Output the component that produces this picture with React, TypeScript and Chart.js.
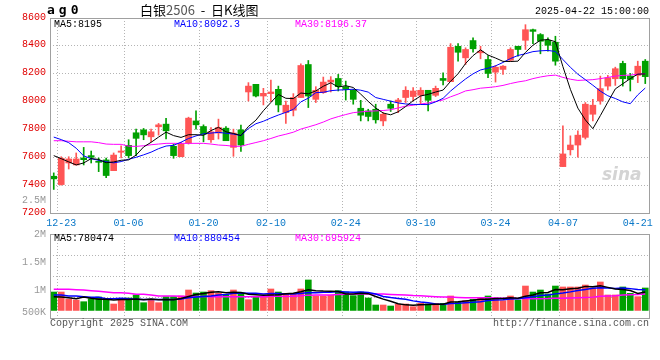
import React, { useEffect, useRef } from 'react';
import { Chart, registerables } from 'chart.js';

Chart.register(...registerables);

// ---------- data ----------
const dates = [
  '12-20', '12-23', '12-24', '12-25', '12-26', '12-27', '12-30', '12-31',
  '01-02', '01-03', '01-06', '01-07', '01-08', '01-09', '01-10', '01-13', '01-14', '01-15', '01-16', '01-17',
  '01-20', '01-21', '01-22', '01-23', '01-24', '01-27',
  '02-05', '02-06', '02-07', '02-10', '02-11', '02-12', '02-13', '02-14', '02-17', '02-18', '02-19', '02-20', '02-21',
  '02-24', '02-25', '02-26', '02-27', '02-28',
  '03-03', '03-04', '03-05', '03-06', '03-07', '03-10', '03-11', '03-12', '03-13', '03-14', '03-17', '03-18', '03-19',
  '03-20', '03-21', '03-24', '03-25', '03-26', '03-27', '03-28', '03-31',
  '04-01', '04-02', '04-03', '04-07', '04-08', '04-09', '04-10', '04-11', '04-14', '04-15', '04-16', '04-17', '04-18',
  '04-21', '04-22',
];

const opens = [
  7464, 7404, 7559, 7545, 7595, 7612, 7571, 7581, 7504, 7636,
  7686, 7776, 7797, 7747, 7819, 7838, 7679, 7604, 7702, 7861,
  7821, 7726, 7774, 7809, 7671, 7797, 8069, 8124, 8040, 8057,
  8088, 7921, 7938, 8029, 8266, 8016, 8064, 8140, 8166, 8107,
  8081, 7952, 7933, 7945, 7861, 7981, 7997, 8029, 8036, 8045,
  8081, 8045, 8166, 8143, 8397, 8314, 8438, 8350, 8302, 8211,
  8231, 8297, 8397, 8440, 8516, 8481, 8440, 8426, 7533, 7654,
  7688, 7743, 7909, 8004, 8111, 8164, 8274, 8183, 8188, 8290,
];
const highs = [
  7488, 7604, 7604, 7631, 7671, 7645, 7595, 7595, 7631, 7683,
  7726, 7802, 7807, 7802, 7843, 7879, 7695, 7707, 7888, 7933,
  7833, 7814, 7874, 7821, 7802, 7831, 8136, 8124, 8095, 8154,
  8111, 8004, 8057, 8271, 8295, 8107, 8176, 8179, 8195, 8147,
  8088, 8009, 7945, 7981, 7921, 8004, 8024, 8107, 8100, 8100,
  8081, 8111, 8207, 8416, 8416, 8386, 8457, 8397, 8331, 8259,
  8259, 8386, 8397, 8552, 8521, 8488, 8457, 8469, 7826, 7754,
  7790, 7993, 8016, 8183, 8188, 8247, 8290, 8202, 8290, 8302,
];
const lows = [
  7369, 7400, 7516, 7545, 7545, 7559, 7497, 7454, 7504, 7595,
  7595, 7612, 7726, 7711, 7759, 7731, 7593, 7604, 7695, 7802,
  7711, 7707, 7731, 7719, 7607, 7643, 8004, 8033, 7976, 8000,
  7926, 7843, 7897, 8029, 7957, 7993, 8059, 8069, 8076, 8011,
  7981, 7861, 7861, 7845, 7826, 7929, 7921, 7993, 8004, 7981,
  7933, 8036, 8119, 8143, 8290, 8266, 8354, 8307, 8171, 8140,
  8195, 8290, 8326, 8374, 8416, 8343, 8361, 8261, 7533, 7616,
  7600, 7731, 7861, 7981, 8083, 8116, 8111, 8076, 8136, 8129,
];
const closes = [
  7445, 7593, 7588, 7588, 7583, 7600, 7564, 7469, 7616, 7645,
  7612, 7736, 7761, 7783, 7833, 7790, 7612, 7695, 7881, 7833,
  7766, 7783, 7814, 7719, 7774, 7688, 8111, 8040, 8059, 8069,
  7976, 7974, 8029, 8259, 8040, 8081, 8140, 8154, 8107, 8088,
  8016, 7902, 7893, 7869, 7909, 7952, 8011, 8081, 8076, 8081,
  8009, 8095, 8152, 8390, 8354, 8374, 8379, 8361, 8202, 8247,
  8254, 8374, 8374, 8516, 8504, 8433, 8404, 8290, 7624, 7688,
  7759, 7981, 7974, 8093, 8171, 8236, 8164, 8159, 8254, 8179,
];
const volumes = [
  964000, 964000, 839000, 821000, 791000, 845000, 875000, 845000, 750000, 833000,
  857000, 911000, 773000, 821000, 773000, 881000, 881000, 893000, 1000000, 946000,
  964000, 988000, 940000, 917000, 1000000, 940000, 827000, 887000, 875000, 1018000,
  964000, 929000, 923000, 1018000, 1179000, 893000, 893000, 905000, 988000, 964000,
  899000, 964000, 857000, 732000, 732000, 714000, 744000, 750000, 702000, 762000,
  750000, 762000, 762000, 893000, 786000, 809000, 833000, 857000, 893000, 857000,
  809000, 893000, 821000, 1071000, 964000, 1000000, 929000, 1071000, 1054000, 1054000,
  1054000, 1089000, 1036000, 1143000, 911000, 911000, 1054000, 940000, 881000, 1036000,
];

// moving-average values before a full window exists
const ma5Lead = [7612, 7590, 7567, 7545];
const ma10Lead = [7745, 7727, 7705, 7665, 7610, 7590, 7578, 7568, 7560];
const ma30Lead = [
  7719, 7719, 7715, 7711, 7711, 7711, 7705, 7695, 7693, 7693,
  7680, 7678, 7683, 7690, 7695, 7700, 7700, 7700, 7700, 7700,
  7700, 7695, 7688, 7685, 7679, 7679, 7693, 7706, 7719,
];
const volMa5Lead = [881000, 875000, 860000, 845000];
const volMa10Lead = [911000, 911000, 893000, 893000, 880000, 869000, 869000, 845000, 845000];
const volMa30Lead = [
  1012000, 1012000, 1012000, 1006000, 1000000, 988000, 976000, 964000, 952000, 952000,
  940000, 923000, 923000, 910000, 893000, 893000, 893000, 890000, 886000, 884000,
  882000, 881000, 881000, 881000, 881000, 881000, 881000, 881000, 881000,
];

const xLabelDates = ['12-23', '01-06', '01-20', '02-10', '02-24', '03-10', '03-24', '04-07', '04-21'];
const xGridDates = ['12-23', '01-06', '01-20', '02-10', '02-24', '03-10', '03-24', '04-07'];

const priceMin = 7200;
const priceMax = 8600;
const priceStep = 200;

const volMin = 500000;
const volMax = 2000000;
const volBase = 635000;
const volTickValues = [500000, 1000000, 1500000, 2000000];
const volTickLabels = ['500K', '1M', '1.5M', '2M'];

const legendMain = ['MA5:8195', 'MA10:8092.3', 'MA30:8196.37'];
const legendVol = ['MA5:780474', 'MA10:880454', 'MA30:695924'];

// ---------- styles ----------
const MONO = '"Liberation Mono", "DejaVu Sans Mono", monospace';
const RED = '#ff5555';
const GREEN = '#00a000';
const GRID = '#b4b4b4';
const FRAME = '#a0a0a0';
const CLEAR = 'rgba(0,0,0,0)';
const MA_COLORS = ['#000000', '#0000ff', '#ff00ff'];

function movingAverage(values: number[], n: number, lead: number[]): number[] {
  return values.map((_, i) => {
    if (i < n - 1) return lead[i];
    let s = 0;
    for (let k = i - n + 1; k <= i; k++) s += values[k];
    return s / n;
  });
}

const labelSet = new Set(xLabelDates);
const gridSet = new Set(xGridDates);
const candleColors = closes.map((c, i) => (c >= opens[i] ? RED : GREEN));

const framePlugin = {
  id: 'frame',
  afterDraw(chart: any) {
    const { ctx, chartArea: a } = chart;
    ctx.save();
    ctx.strokeStyle = FRAME;
    ctx.lineWidth = 1;
    ctx.setLineDash([]);
    ctx.strokeRect(Math.round(a.left) + 0.5, Math.round(a.top) + 0.5, Math.round(a.right - a.left), Math.round(a.bottom - a.top));
    ctx.restore();
  },
};

function noPadding(s: any) {
  s.paddingTop = 0;
  s.paddingBottom = 0;
  s.paddingLeft = 0;
  s.paddingRight = 0;
}

function xScale(showLabels: boolean, height: number) {
  return {
    type: 'category',
    offset: true,
    grid: {
      offset: true,
      drawTicks: false,
      lineWidth: 1,
      color: (c: any) => (gridSet.has(dates[c.index]) ? GRID : CLEAR),
    },
    border: { display: false, dash: [1, 2] },
    ticks: {
      display: showLabels,
      autoSkip: false,
      maxRotation: 0,
      minRotation: 0,
      padding: 4,
      color: '#0a78c8',
      font: { family: MONO, size: 10 },
      callback: (_v: any, i: number) => (labelSet.has(dates[i]) ? dates[i] : ''),
    },
    afterFit: (s: any) => {
      s.height = height;
      noPadding(s);
    },
  };
}

function mainConfig(): any {
  const ma5 = movingAverage(closes, 5, ma5Lead);
  const ma10 = movingAverage(closes, 10, ma10Lead);
  const ma30 = movingAverage(closes, 30, ma30Lead);
  const line = (data: number[], color: string, order: number) => ({
    type: 'line',
    data,
    borderColor: color,
    borderWidth: 1,
    pointRadius: 0,
    fill: false,
    tension: 0,
    order,
  });
  return {
    type: 'bar',
    data: {
      labels: dates,
      datasets: [
        line(ma5, MA_COLORS[0], 0),
        line(ma10, MA_COLORS[1], 1),
        line(ma30, MA_COLORS[2], 2),
        {
          type: 'bar',
          data: opens.map((o, i) => [o, closes[i]]),
          backgroundColor: candleColors,
          barThickness: 6,
          minBarLength: 1,
          grouped: false,
          order: 3,
        },
        {
          type: 'bar',
          data: lows.map((l, i) => [l, highs[i]]),
          backgroundColor: candleColors,
          barThickness: 1,
          grouped: false,
          order: 4,
        },
      ],
    },
    options: {
      responsive: false,
      animation: false,
      devicePixelRatio: 1,
      events: [],
      layout: { padding: { top: 18, right: 11, left: 0, bottom: 0 } },
      plugins: { legend: { display: false }, tooltip: { enabled: false } },
      scales: {
        x: xScale(true, 27),
        y: {
          min: priceMin,
          max: priceMax,
          grid: { drawTicks: false, color: GRID, lineWidth: 1 },
          border: { display: false, dash: [1, 2] },
          ticks: {
            stepSize: priceStep,
            autoSkip: false,
            padding: 4,
            labelOffset: -1,
            color: '#e00000',
            font: { family: MONO, size: 10 },
            callback: (v: number) => String(v),
          },
          afterFit: (s: any) => {
            s.width = 50;
            noPadding(s);
          },
        },
      },
    },
    plugins: [framePlugin],
  };
}

function volConfig(): any {
  const ma5 = movingAverage(volumes, 5, volMa5Lead);
  const ma10 = movingAverage(volumes, 10, volMa10Lead);
  const ma30 = movingAverage(volumes, 30, volMa30Lead);
  const gridValues = [1, 2, 3].map((k) => volMin + ((volMax - volMin) * k) / 4);
  const allTicks = [...volTickValues, ...gridValues].sort((a, b) => a - b);
  const line = (data: number[], color: string, order: number) => ({
    type: 'line',
    data,
    borderColor: color,
    borderWidth: 1.5,
    pointRadius: 0,
    fill: false,
    tension: 0,
    order,
  });
  return {
    type: 'bar',
    data: {
      labels: dates,
      datasets: [
        line(ma5, MA_COLORS[0], 0),
        line(ma10, MA_COLORS[1], 1),
        line(ma30, MA_COLORS[2], 2),
        {
          type: 'bar',
          data: volumes,
          base: volBase,
          backgroundColor: candleColors,
          barThickness: 6,
          grouped: false,
          order: 3,
        },
      ],
    },
    options: {
      responsive: false,
      animation: false,
      devicePixelRatio: 1,
      events: [],
      layout: { padding: { top: 10, right: 11, left: 0, bottom: 0 } },
      plugins: { legend: { display: false }, tooltip: { enabled: false } },
      scales: {
        x: xScale(false, 12),
        y: {
          min: volMin,
          max: volMax,
          afterBuildTicks: (s: any) => {
            s.ticks = allTicks.map((v) => ({ value: v }));
          },
          grid: {
            drawTicks: false,
            lineWidth: 1,
            color: (c: any) => (c.tick && gridValues.includes(c.tick.value) ? GRID : CLEAR),
          },
          border: { display: false, dash: [1, 2] },
          ticks: {
            autoSkip: false,
            padding: 4,
            color: '#999999',
            font: { family: MONO, size: 10 },
            callback: (v: number) => {
              const k = volTickValues.indexOf(v);
              if (k < 0) return '';
              return k === 0 ? [volTickLabels[k], ''] : volTickLabels[k];
            },
          },
          afterFit: (s: any) => {
            s.width = 50;
            noPadding(s);
          },
        },
      },
    },
    plugins: [framePlugin],
  };
}

const txt = (extra: React.CSSProperties): React.CSSProperties => ({
  position: 'absolute',
  fontFamily: MONO,
  fontSize: 10,
  lineHeight: '12px',
  whiteSpace: 'pre',
  ...extra,
});

export default function App() {
  const mainRef = useRef<HTMLCanvasElement>(null);
  const volRef = useRef<HTMLCanvasElement>(null);

  useEffect(() => {
    const main = new Chart(mainRef.current as HTMLCanvasElement, mainConfig());
    const vol = new Chart(volRef.current as HTMLCanvasElement, volConfig());
    return () => {
      main.destroy();
      vol.destroy();
    };
  }, []);

  const legendX = [54, 174, 295];

  return (
    <div style={{ position: 'absolute', left: 0, top: 0, width: 660, height: 360, background: '#ffffff', overflow: 'hidden' }}>
      <canvas ref={mainRef} width={660} height={240} style={{ position: 'absolute', left: 0, top: 0, display: 'block' }} />
      <canvas ref={volRef} width={660} height={106} style={{ position: 'absolute', left: 0, top: 224, display: 'block' }} />

      <div style={txt({ left: 47, top: 2, fontFamily: '"DejaVu Sans Mono", monospace', fontWeight: 'bold', fontSize: 13, lineHeight: '16px', letterSpacing: 4, color: '#000' })}>ag0</div>
      <div style={txt({ left: 140, top: 1, fontFamily: '"Noto Sans CJK SC", sans-serif', fontSize: 13, lineHeight: '18px', color: '#000' })}>
        白银<span style={{ color: '#555' }}>2506</span>{'  -  '}日K线图
      </div>
      <div style={txt({ right: 11, top: 6, color: '#000' })}>2025-04-22 15:00:00</div>

      {legendMain.map((t, i) => (
        <div key={'m' + i} style={txt({ left: legendX[i], top: 19, color: MA_COLORS[i] })}>{t}</div>
      ))}
      {legendVol.map((t, i) => (
        <div key={'v' + i} style={txt({ left: legendX[i], top: 233, color: MA_COLORS[i] })}>{t}</div>
      ))}

      <div style={txt({ right: 614, top: 195, color: '#999999', textAlign: 'right' })}>2.5M</div>
      <div style={txt({ left: 602, top: 164, fontFamily: '"DejaVu Sans", sans-serif', fontSize: 17, lineHeight: '20px', fontWeight: 'bold', fontStyle: 'italic', color: '#d4d4d4' })}>sina</div>

      <div style={txt({ left: 50, top: 318, color: '#555555' })}>Copyright 2025 SINA.COM</div>
      <div style={txt({ right: 11, top: 318, color: '#555555' })}>http://finance.sina.com.cn</div>
    </div>
  );
}
